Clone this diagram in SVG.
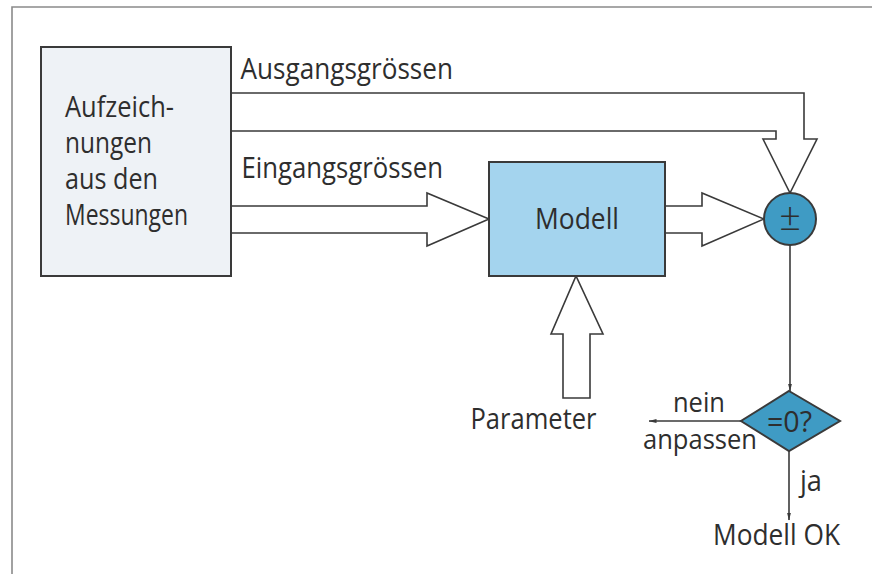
<svg xmlns="http://www.w3.org/2000/svg" width="872" height="574" viewBox="0 0 872 574">
<style>
text{font-family:"Open Sans","Noto Sans","DejaVu Sans",sans-serif;font-size:29px;fill:#2e2e2e;}
.box{stroke:#3a3a3a;stroke-width:2;}
.hollow{fill:#fff;stroke:#3a3a3a;stroke-width:1.6;stroke-linejoin:miter;}
.thin{fill:none;stroke:#3a3a3a;stroke-width:1.6;}
.sm{font-size:27px;}
</style>
<defs>
<marker id="ah" markerWidth="8" markerHeight="16" refX="15" refY="4" viewBox="0 0 16 8" markerUnits="userSpaceOnUse" orient="auto">
<path d="M0,0 L16,4 L0,8 Z" fill="#3a3a3a"/>
</marker>
</defs>
<rect width="872" height="574" fill="#fff"/>
<path d="M12,574 V7 H872" fill="none" stroke="#8a8a8a" stroke-width="1.6"/>

<g id="connectors">
<path class="hollow" d="M231,93 H804 V139 H817 L790,193 L763,139 H776 V131 H231"/>
<path class="hollow" d="M231,206 H427 V193 L489,219 L427,246 V233 H231"/>
<path class="hollow" d="M665,206 H702 V193 L764,219 L702,246 V233 H665"/>
<path class="hollow" d="M563,398 V334 H551 L576,276 L603,334 H590 V398 Z"/>
<line class="thin" x1="790" y1="245" x2="790" y2="391" marker-end="url(#ah)"/>
<line class="thin" x1="741" y1="421" x2="649" y2="421" marker-end="url(#ah)"/>
<line class="thin" x1="789" y1="451" x2="789" y2="520" marker-end="url(#ah)"/>
<text x="240.5" y="78.5" textLength="212.5" lengthAdjust="spacingAndGlyphs">Ausgangsgrössen</text>
<text x="241.5" y="177.5" textLength="201.5" lengthAdjust="spacingAndGlyphs">Eingangsgrössen</text>
<text class="sm" x="673" y="412" textLength="52" lengthAdjust="spacingAndGlyphs">nein</text>
<text class="sm" x="643" y="449" textLength="114" lengthAdjust="spacingAndGlyphs">anpassen</text>
<text x="800" y="491" textLength="22" lengthAdjust="spacingAndGlyphs">ja</text>
</g>

<g id="node-records">
<rect class="box" x="41" y="47" width="190" height="229" fill="#eef2f6"/>
<text x="65" y="117" textLength="109" lengthAdjust="spacingAndGlyphs">Aufzeich-</text>
<text x="65" y="153" textLength="87" lengthAdjust="spacingAndGlyphs">nungen</text>
<text x="65" y="189" textLength="93" lengthAdjust="spacingAndGlyphs">aus den</text>
<text x="65" y="225" textLength="123" lengthAdjust="spacingAndGlyphs">Messungen</text>
</g>

<g id="node-model">
<rect class="box" x="489" y="162" width="176" height="114" fill="#a4d4ee"/>
<text x="535" y="228.5" textLength="84" lengthAdjust="spacingAndGlyphs">Modell</text>
</g>

<g id="node-sum">
<circle class="box" cx="790" cy="219" r="26" fill="#3f9bc4"/>
<text x="790" y="230" text-anchor="middle" style="font-size:38px;font-weight:300">±</text>
</g>

<g id="node-decision">
<path class="box" d="M789,391 L840,421 L789,451 L741,421 Z" fill="#3f9bc4"/>
<text x="767" y="432" textLength="45" lengthAdjust="spacingAndGlyphs">=0?</text>
</g>

<g id="node-parameter">
<text x="470.5" y="428.5" textLength="126" lengthAdjust="spacingAndGlyphs">Parameter</text>
</g>

<g id="node-ok">
<text x="713" y="545" textLength="127" lengthAdjust="spacingAndGlyphs">Modell OK</text>
</g>
</svg>
